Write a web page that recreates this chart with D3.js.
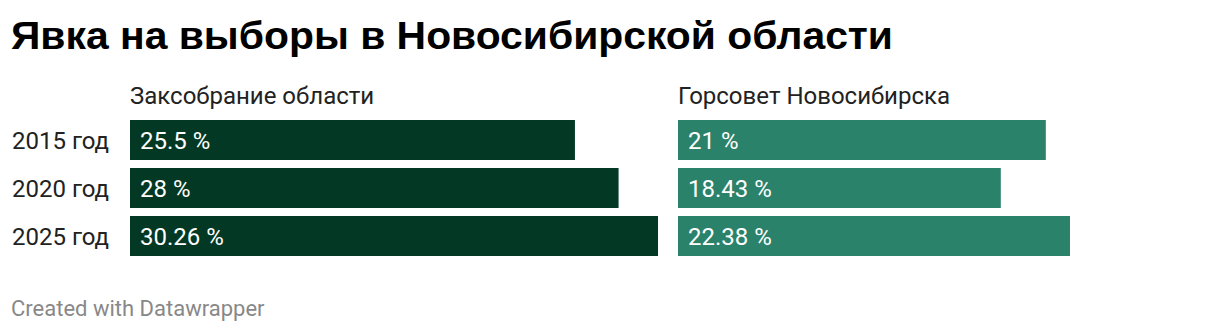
<!DOCTYPE html>
<html lang="ru">
<head>
  <meta charset="UTF-8">
  <title>Явка на выборы в Новосибирской области</title>
  <style>
    body { margin: 0; background: #fff; }
    svg { display: block; }
  </style>
</head>
<body>
  <svg></svg>
  <script src="https://cdn.jsdelivr.net/npm/d3@7"></script>
  <script>
    const years = ["2015 год", "2020 год", "2025 год"]
    const panels = ["Заксобрание области", "Горсовет Новосибирска"]
    const zaksobranie = [25.5, 28, 30.26]
    const gorsovet = [21, 18.43, 22.38]
    const valueLabels = [["25.5 %", "28 %", "30.26 %"], ["21 %", "18.43 %", "22.38 %"]]
    const colors = ["#033824", "#2a826b"]

    const width = 1220
    const height = 332
    const svg = d3.select("svg").attr("width", width).attr("height", height)

    const y = d3.scaleBand()
      .domain(years)
      .range([120, 256])
      .paddingInner(1 / 6)
      .paddingOuter(0)

    const maxVal = d3.max([...zaksobranie, ...gorsovet])
    const xs = [
      d3.scaleLinear().domain([0, maxVal]).range([130, 658]),
      d3.scaleLinear().domain([0, maxVal]).range([678, 1208])
    ]
    const series = [zaksobranie, gorsovet]

    // title
    svg.append("text")
      .attr("x", 11)
      .attr("y", 49)
      .attr("font-family", "Liberation Sans, Arial, sans-serif")
      .attr("font-weight", "bold")
      .attr("font-size", 39)
      .attr("textLength", 882)
      .attr("lengthAdjust", "spacingAndGlyphs")
      .attr("fill", "#000")
      .text("Явка на выборы в Новосибирской области")

    // row labels
    svg.append("g")
      .selectAll("text")
      .data(years)
      .join("text")
      .attr("x", 12)
      .attr("y", d => y(d) + y.bandwidth() / 2 + 8.5)
      .attr("font-family", "Roboto, sans-serif")
      .attr("font-size", 24)
      .attr("fill", "#222")
      .text(d => d)

    panels.forEach((name, p) => {
      const x = xs[p]
      const g = svg.append("g")

      g.append("text")
        .attr("x", x(0))
        .attr("y", 104)
        .attr("font-family", "Roboto, sans-serif")
        .attr("font-size", 24)
        .attr("fill", "#222")
        .text(name)

      g.selectAll("rect")
        .data(series[p])
        .join("rect")
        .attr("x", x(0))
        .attr("y", (d, i) => y(years[i]))
        .attr("width", d => x(d) - x(0))
        .attr("height", y.bandwidth())
        .attr("fill", colors[p])

      g.selectAll("text.val")
        .data(valueLabels[p])
        .join("text")
        .attr("class", "val")
        .attr("x", x(0) + 10)
        .attr("y", (d, i) => y(years[i]) + y.bandwidth() / 2 + 8.5)
        .attr("font-family", "Roboto, sans-serif")
        .attr("font-size", 24)
        .attr("fill", "#fff")
        .text(d => d)
    })

    svg.append("text")
      .attr("x", 11)
      .attr("y", 316)
      .attr("font-family", "Roboto, sans-serif")
      .attr("font-size", 22)
      .attr("fill", "#888")
      .text("Created with Datawrapper")
  </script>
</body>
</html>
